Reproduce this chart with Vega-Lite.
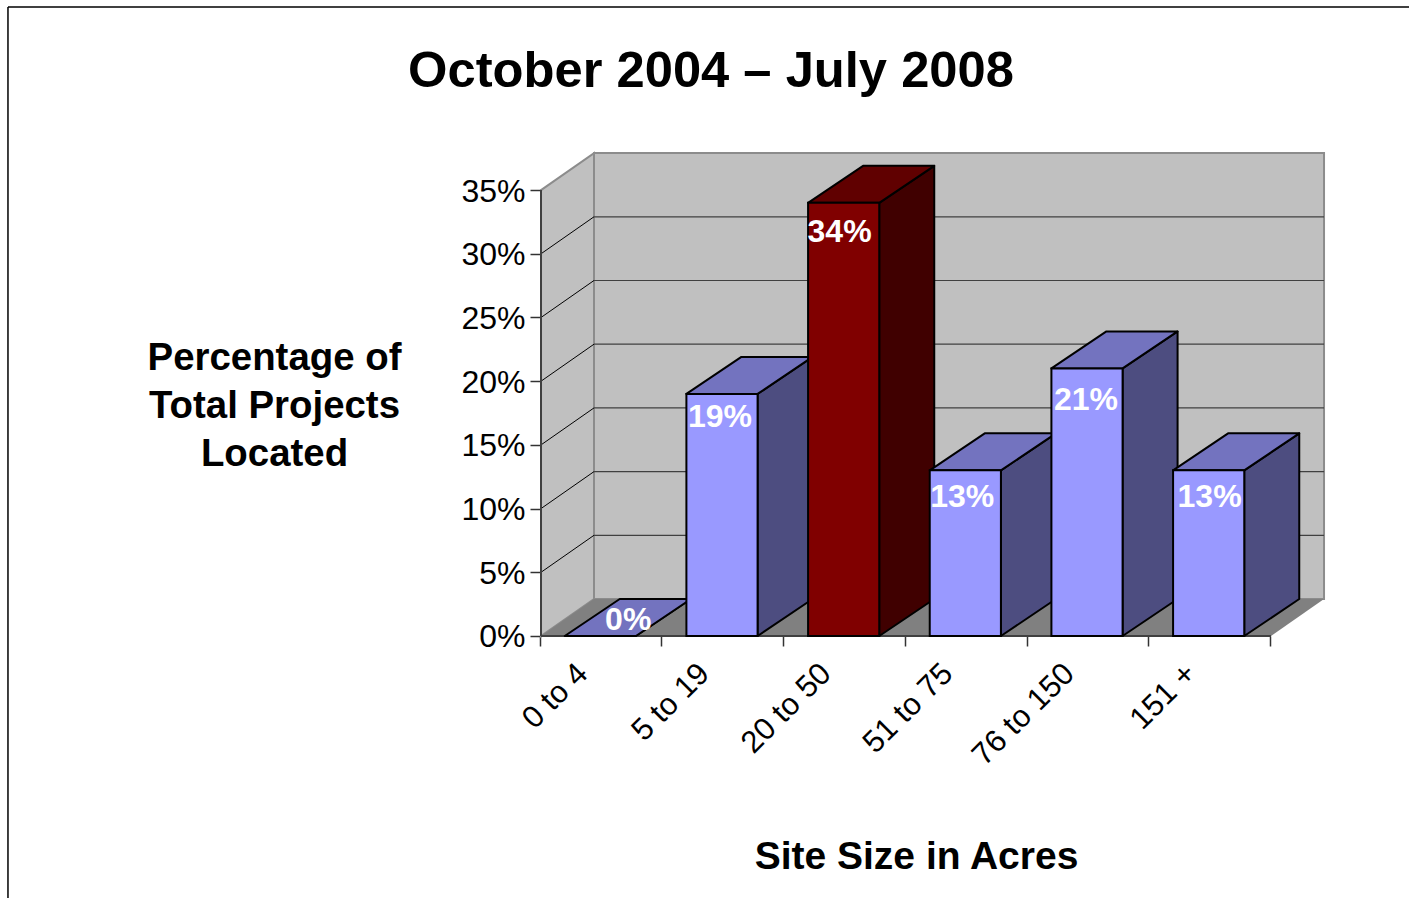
{
"$schema":"https://vega.github.io/schema/vega-lite/v6.json",
"width":1409,"height":898,"padding":0,"autosize":{"type":"none"},"background":"white",
"config":{"view":{"stroke":null},"font":"Liberation Sans","text":{"font":"Liberation Sans"},"axis":{"labelFont":"Liberation Sans","titleFont":"Liberation Sans"}},
"title":{"text":"October 2004 – July 2008","anchor":"middle","frame":"group","offset":-138,"baseline":"alphabetic","dx":6.5,"fontSize":50.7,"font":"Liberation Sans","fontWeight":"bold","color":"black"},
"datasets":{
"bars":[{"category":"0 to 4","share":0},{"category":"5 to 19","share":19},{"category":"20 to 50","share":34},{"category":"51 to 75","share":13},{"category":"76 to 150","share":21},{"category":"151 +","share":13}],
"ticks":[{"tick":0},{"tick":5},{"tick":10},{"tick":15},{"tick":20},{"tick":25},{"tick":30},{"tick":35}],
"one":[{"part":"plot"}]
},
"layer":[
{"data":{"name":"one"},"transform":[{"calculate":"0.4356","as":"a"},{"calculate":"6.4356","as":"b"},{"calculate":"2.904","as":"c"},{"calculate":"37.904","as":"d"}],"mark":{"type":"rect","fill":"#c0c0c0","stroke":"#8c8c8c","strokeWidth":2},
"encoding":{"x":{"field":"a","type":"quantitative","scale":{"domain":[-4.4465,7.134],"nice":false,"zero":false},"axis":{"values":[-0.005,0.985,1.99,2.99,3.995,4.99,5.995],"labels":false,"domain":false,"grid":false,"tickSize":10,"tickColor":"#333333","tickWidth":1.5,"offset":-262,"orient":"bottom","title":"Site Size in Acres","titleFontSize":39,"titleFontWeight":"bold","titleColor":"black","titleAnchor":"middle","titleAlign":"center","titleBaseline":"alphabetic","titleX":916,"titleY":232}},
"x2":{"field":"b"},
"y":{"field":"c","type":"quantitative","scale":{"domain":[-20.565,49.92],"nice":false,"zero":false},"axis":{"values":[0,5,10,15,20,25,30,35],"labelExpr":"datum.value+'%'","labelFontSize":32,"labelColor":"black","labelPadding":5,"labelOffset":1,"domain":false,"grid":false,"tickSize":11,"tickColor":"#333333","tickWidth":1.5,"offset":-541,"orient":"left","title":["Percentage of","Total Projects","Located"],"titleAngle":0,"titleFontSize":38.4,"titleFontWeight":"bold","titleColor":"black","titleAlign":"center","titleBaseline":"alphabetic","titleLineHeight":48,"titleX":-267,"titleY":369}},
"y2":{"field":"d"}}},
{"data":{"name":"one"},"transform":[{"calculate":"[0,0.4356]","as":"u"},{"calculate":"[0,2.904]","as":"lo"},{"calculate":"[35,37.904]","as":"hi"},{"flatten":["u","lo","hi"]}],
"mark":{"type":"area","fill":"#c0c0c0","stroke":"#8c8c8c","strokeWidth":2},
"encoding":{"x":{"field":"u","type":"quantitative","scale":{"domain":[-4.4465,7.134],"nice":false,"zero":false}},"y":{"field":"hi","type":"quantitative","stack":null,"scale":{"domain":[-20.565,49.92],"nice":false,"zero":false}},"y2":{"field":"lo"}}},
{"data":{"name":"one"},"transform":[{"calculate":"[0,0.4356,6,6.4356]","as":"u"},{"calculate":"[0,0,0,2.904]","as":"lo"},{"calculate":"[0,2.904,2.904,2.904]","as":"hi"},{"flatten":["u","lo","hi"]}],
"mark":{"type":"area","fill":"#808080"},
"encoding":{"x":{"field":"u","type":"quantitative","scale":{"domain":[-4.4465,7.134],"nice":false,"zero":false}},"y":{"field":"hi","type":"quantitative","stack":null,"scale":{"domain":[-20.565,49.92],"nice":false,"zero":false}},"y2":{"field":"lo"}}},
{"data":{"name":"ticks"},"transform":[{"filter":"datum.tick>0 && datum.tick<35"},{"calculate":"datum.tick+2.904","as":"back"},{"calculate":"0.4356","as":"a"},{"calculate":"6.4356","as":"b"}],
"mark":{"type":"rule","color":"#404040","strokeWidth":1.2},
"encoding":{"x":{"field":"a","type":"quantitative","scale":{"domain":[-4.4465,7.134],"nice":false,"zero":false}},"x2":{"field":"b"},"y":{"field":"back","type":"quantitative","scale":{"domain":[-20.565,49.92],"nice":false,"zero":false}}}},
{"data":{"name":"ticks"},"transform":[{"filter":"datum.tick>0 && datum.tick<35"},{"calculate":"datum.tick+2.904","as":"back"},{"calculate":"0","as":"a"},{"calculate":"0.4356","as":"b"}],
"mark":{"type":"rule","color":"black","strokeWidth":1},
"encoding":{"x":{"field":"a","type":"quantitative","scale":{"domain":[-4.4465,7.134],"nice":false,"zero":false}},"x2":{"field":"b"},"y":{"field":"tick","type":"quantitative","scale":{"domain":[-20.565,49.92],"nice":false,"zero":false}},"y2":{"field":"back"}}},
{"data":{"name":"one"},"transform":[{"calculate":"0","as":"a"},{"calculate":"0","as":"c"},{"calculate":"35","as":"d"}],"mark":{"type":"rule","color":"#404040","strokeWidth":2},
"encoding":{"x":{"field":"a","type":"quantitative","scale":{"domain":[-4.4465,7.134],"nice":false,"zero":false}},"y":{"field":"c","type":"quantitative","scale":{"domain":[-20.565,49.92],"nice":false,"zero":false}},"y2":{"field":"d"}}},
{"data":{"name":"one"},"transform":[{"calculate":"0","as":"a"},{"calculate":"6","as":"b"},{"calculate":"0","as":"c"}],"mark":{"type":"rule","color":"#404040","strokeWidth":2},
"encoding":{"x":{"field":"a","type":"quantitative","scale":{"domain":[-4.4465,7.134],"nice":false,"zero":false}},"x2":{"field":"b"},"y":{"field":"c","type":"quantitative","scale":{"domain":[-20.565,49.92],"nice":false,"zero":false}}}},
{"data":{"name":"bars"},"transform":[{"calculate":"indexof(['0 to 4','5 to 19','20 to 50','51 to 75','76 to 150','151 +'],datum.category)+0.78","as":"x1"},{"calculate":"[datum.x1,datum.x1+0.452]","as":"u"},{"calculate":"[0,2.904]","as":"lo"},{"calculate":"[datum.share,datum.share+2.904]","as":"hi"},{"flatten":["u","lo","hi"]}],
"mark":{"type":"area","stroke":"black","strokeWidth":2,"strokeJoin":"round"},
"encoding":{"detail":{"field":"category","type":"nominal"},"fill":{"condition":{"test":"datum.category==='20 to 50'","value":"#400000"},"value":"#4d4d80"},"x":{"field":"u","type":"quantitative","scale":{"domain":[-4.4465,7.134],"nice":false,"zero":false}},"y":{"field":"hi","type":"quantitative","stack":null,"scale":{"domain":[-20.565,49.92],"nice":false,"zero":false}},"y2":{"field":"lo"}}},
{"data":{"name":"bars"},"transform":[{"calculate":"indexof(['0 to 4','5 to 19','20 to 50','51 to 75','76 to 150','151 +'],datum.category)+0.195","as":"x0"},{"calculate":"[datum.x0,datum.x0+0.452,datum.x0+0.585,datum.x0+1.037]","as":"u"},{"calculate":"[datum.share,datum.share,datum.share,datum.share+2.904]","as":"lo"},{"calculate":"[datum.share,datum.share+2.904,datum.share+2.904,datum.share+2.904]","as":"hi"},{"flatten":["u","lo","hi"]}],
"mark":{"type":"area","stroke":"black","strokeWidth":2,"strokeJoin":"round"},
"encoding":{"detail":{"field":"category","type":"nominal"},"fill":{"condition":{"test":"datum.category==='20 to 50'","value":"#600000"},"value":"#7373bf"},"x":{"field":"u","type":"quantitative","scale":{"domain":[-4.4465,7.134],"nice":false,"zero":false}},"y":{"field":"hi","type":"quantitative","stack":null,"scale":{"domain":[-20.565,49.92],"nice":false,"zero":false}},"y2":{"field":"lo"}}},
{"data":{"name":"bars"},"transform":[{"filter":"datum.share>0"},{"calculate":"indexof(['0 to 4','5 to 19','20 to 50','51 to 75','76 to 150','151 +'],datum.category)+0.195","as":"x0"},{"calculate":"datum.x0+0.585","as":"x1"},{"calculate":"0","as":"base"}],
"mark":{"type":"rect","stroke":"black","strokeWidth":2},
"encoding":{"fill":{"condition":{"test":"datum.category==='20 to 50'","value":"#800000"},"value":"#9999ff"},"x":{"field":"x0","type":"quantitative","scale":{"domain":[-4.4465,7.134],"nice":false,"zero":false}},"x2":{"field":"x1"},"y":{"field":"base","type":"quantitative","scale":{"domain":[-20.565,49.92],"nice":false,"zero":false}},"y2":{"field":"share"}}},
{"data":{"name":"bars"},"transform":[{"calculate":"indexof(['0 to 4','5 to 19','20 to 50','51 to 75','76 to 150','151 +'],datum.category)+0.495+({'0 to 4':27,'5 to 19':-3,'20 to 50':-5,'51 to 75':-4,'76 to 150':-2,'151 +':0}[datum.category])/121.67","as":"cx"},{"calculate":"datum.share-({'0 to 4':-16,'5 to 19':23,'20 to 50':29,'51 to 75':27,'76 to 150':32,'151 +':27}[datum.category])/12.74","as":"cy"},{"calculate":"datum.share+'%'","as":"label"}],
"mark":{"type":"text","fontSize":32,"fontWeight":"bold","color":"white","align":"center","baseline":"middle"},
"encoding":{"text":{"field":"label","type":"nominal"},"x":{"field":"cx","type":"quantitative","scale":{"domain":[-4.4465,7.134],"nice":false,"zero":false}},"y":{"field":"cy","type":"quantitative","scale":{"domain":[-20.565,49.92],"nice":false,"zero":false}}}},
{"data":{"name":"bars"},"transform":[{"calculate":"indexof(['0 to 4','5 to 19','20 to 50','51 to 75','76 to 150','151 +'],datum.category)+0.345","as":"cx"},{"calculate":"-2.6","as":"cy"}],
"mark":{"type":"text","fontSize":31,"color":"black","angle":315,"align":"right","baseline":"middle"},
"encoding":{"text":{"field":"category","type":"nominal"},"x":{"field":"cx","type":"quantitative","scale":{"domain":[-4.4465,7.134],"nice":false,"zero":false}},"y":{"field":"cy","type":"quantitative","scale":{"domain":[-20.565,49.92],"nice":false,"zero":false}}}},
{"data":{"name":"one"},"transform":[{"calculate":"-4.381","as":"a"},{"calculate":"-20.565","as":"c"},{"calculate":"49.37","as":"d"}],"mark":{"type":"rule","color":"black","strokeWidth":1.5},
"encoding":{"x":{"field":"a","type":"quantitative","scale":{"domain":[-4.4465,7.134],"nice":false,"zero":false}},"y":{"field":"c","type":"quantitative","scale":{"domain":[-20.565,49.92],"nice":false,"zero":false}},"y2":{"field":"d"}}},
{"data":{"name":"one"},"transform":[{"calculate":"-4.381","as":"a"},{"calculate":"7.134","as":"b"},{"calculate":"49.37","as":"c"}],"mark":{"type":"rule","color":"black","strokeWidth":1.5},
"encoding":{"x":{"field":"a","type":"quantitative","scale":{"domain":[-4.4465,7.134],"nice":false,"zero":false}},"x2":{"field":"b"},"y":{"field":"c","type":"quantitative","scale":{"domain":[-20.565,49.92],"nice":false,"zero":false}}}}
]
}
